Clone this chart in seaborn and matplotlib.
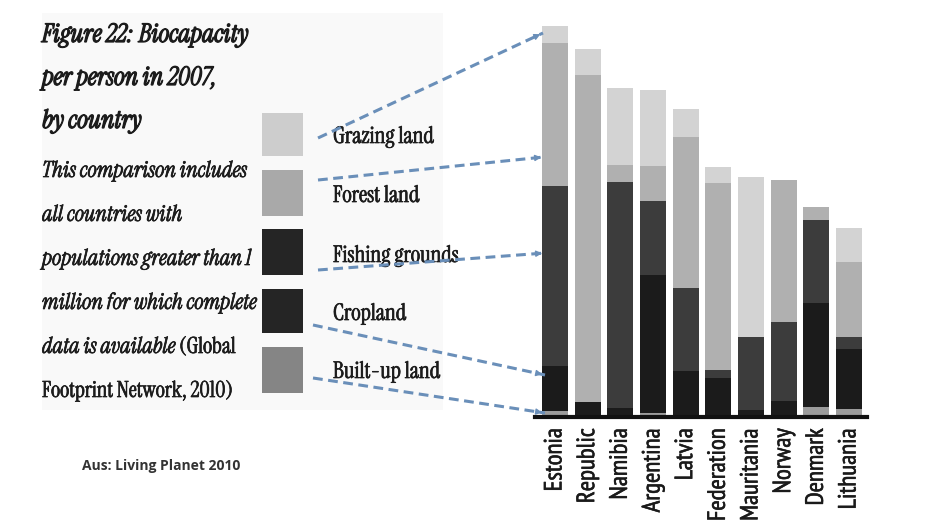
import matplotlib
matplotlib.use("Agg")
import numpy as np
import pandas as pd
import seaborn as sns
import matplotlib.pyplot as plt
import matplotlib.patheffects as pe
from matplotlib.patches import Rectangle, FancyArrowPatch
from matplotlib.lines import Line2D

# --- data (global hectares per person) ---
countries = ["Estonia", "Republic", "Namibia", "Argentina", "Latvia",
             "Federation", "Mauritania", "Norway", "Denmark", "Lithuania"]
built_up = [0.14, 0.02, 0.02, 0.09, 0.02, 0.02, 0.02, 0.02, 0.23, 0.18]
cropland = [1.03, 0.33, 0.18, 3.18, 1.05, 0.89, 0.14, 0.36, 2.40, 1.40]
fishing = [4.16, 0.00, 5.23, 1.73, 1.90, 0.17, 1.69, 1.81, 1.91, 0.27]
forest = [3.31, 7.54, 0.38, 0.79, 3.50, 4.33, 0.00, 3.29, 0.31, 1.73]
grazing = [0.38, 0.60, 1.78, 1.76, 0.64, 0.36, 3.69, 0.00, 0.00, 0.78]

layers = ["Built-up land", "Cropland", "Fishing grounds", "Forest land", "Grazing land"]
bar_colors = {"Built-up land": "#9c9c9c", "Cropland": "#1b1b1b",
              "Fishing grounds": "#3c3c3c", "Forest land": "#b0b0b0",
              "Grazing land": "#d3d3d3"}
key_colors = {"Grazing land": "#cdcdcd", "Forest land": "#a9a9a9",
              "Fishing grounds": "#252525", "Cropland": "#252525",
              "Built-up land": "#858585"}

df = pd.DataFrame({"country": countries, "Built-up land": built_up,
                   "Cropland": cropland, "Fishing grounds": fishing,
                   "Forest land": forest, "Grazing land": grazing})
cum = df[layers].cumsum(axis=1)
cum["country"] = df["country"]

W, H = 929, 526
fig = plt.figure(figsize=(W / 100, H / 100), dpi=100)
fig.patch.set_facecolor("white")

def fx(px):
    return px / W

def fy(py):
    return 1 - py / H

# faint panel behind the text block
fig.add_artist(Rectangle((fx(42), fy(410)), fx(443) - fx(42), fy(13) - fy(410),
                         transform=fig.transFigure, facecolor="#f9f9f9",
                         edgecolor="none", zorder=0))

ax = fig.add_axes([fx(535), fy(417), fx(867) - fx(535), 407 / H])
ax.set_facecolor("none")
# stacked bars: draw cumulative totals from the top layer down
for lay in layers[::-1]:
    sns.barplot(data=cum, x="country", y=lay, order=countries, color=bar_colors[lay],
                saturation=1, errorbar=None, width=0.8, linewidth=0, ax=ax)
ax.set_xlim(-0.61, 9.55)
ax.set_ylim(0, 9.4)
ax.set_xlabel("")
ax.set_ylabel("")
ax.set_yticks([])
for s in ["left", "right", "top"]:
    ax.spines[s].set_visible(False)
ax.spines["bottom"].set_linewidth(3)
ax.spines["bottom"].set_color("#111111")
ax.tick_params(axis="x", length=0, pad=8)
for lab in ax.get_xticklabels():
    lab.set_rotation(90)
    lab.set_fontfamily(["PT Sans Narrow", "DejaVu Sans"])
    lab.set_fontsize(18)
    lab.set_color("#1a1a1a")
    lab.set_va("top")
    lab.set_ha("center")
    lab.set_path_effects([pe.withStroke(linewidth=0.4, foreground="#1a1a1a")])

serif = ["Instrument Serif", "DejaVu Serif"]
txt = "#1c1c1c"
heavy = [pe.withStroke(linewidth=0.9, foreground=txt)]
mid = [pe.withStroke(linewidth=0.5, foreground=txt)]

# title
for line, base in zip(["Figure 22: Biocapacity", "per person in 2007,", "by country"],
                      [42, 85, 128]):
    fig.text(fx(42), fy(base), line, family=serif, style="italic",
             fontsize=18.5, color=txt, va="baseline", ha="left", path_effects=heavy)

# description
body = [("This comparison includes", ""), ("all countries with", ""),
        ("populations greater than 1", ""), ("million for which complete", ""),
        ("data is available", " (Global"), ("", "Footprint Network, 2010)")]
bases = [177, 221, 265, 309, 353, 397]
fig.canvas.draw()
rend = fig.canvas.get_renderer()
for (ital, up), base in zip(body, bases):
    x0 = fx(42)
    if ital:
        t = fig.text(x0, fy(base), ital, family=serif, style="italic", fontsize=16,
                     color=txt, va="baseline", ha="left", path_effects=mid)
        x0 = fx(t.get_window_extent(rend).x1)
    if up:
        fig.text(x0, fy(base), up, family=serif, fontsize=16, color=txt,
                 va="baseline", ha="left", path_effects=mid)

# colour key
key_boxes = {"Grazing land": (113, 156), "Forest land": (170, 216),
             "Fishing grounds": (229, 275), "Cropland": (289, 333),
             "Built-up land": (347, 393)}
key_base = {"Grazing land": 143, "Forest land": 202, "Fishing grounds": 262,
            "Cropland": 320, "Built-up land": 378}
for lay in layers[::-1]:
    top, bot = key_boxes[lay]
    fig.add_artist(Rectangle((fx(262), fy(bot)), fx(303) - fx(262), fy(top) - fy(bot),
                             transform=fig.transFigure, facecolor=key_colors[lay],
                             edgecolor="none", zorder=2))
    fig.text(fx(333), fy(key_base[lay]), lay, family=serif, fontsize=16.5,
             color=txt, va="baseline", ha="left", zorder=3, path_effects=mid)

# dashed leader lines from the key to the bars
leaders = [((318, 138), (543, 33)), ((318, 180), (544, 157)),
           ((318, 270), (545, 253)), ((313, 325), (545, 375)),
           ((313, 378), (545, 413))]
blue = "#6a8fb9"
for (x1, y1), (x2, y2) in leaders:
    ln = Line2D([fx(x1), fx(x2)], [fy(y1), fy(y2)], transform=fig.transFigure,
                color=blue, lw=2.2, zorder=4)
    ln.set_dashes([3.2, 1.8])
    fig.add_artist(ln)
    d = np.hypot(x2 - x1, y2 - y1)
    xa, ya = x2 - (x2 - x1) * 8 / d, y2 - (y2 - y1) * 8 / d
    fig.add_artist(FancyArrowPatch((fx(xa), fy(ya)), (fx(x2), fy(y2)),
                                   transform=fig.transFigure, arrowstyle="-|>",
                                   mutation_scale=9, color=blue, lw=1, zorder=4))

fig.text(fx(82), fy(466), "Aus: Living Planet 2010", family=["Open Sans", "DejaVu Sans"],
         fontweight="bold", fontsize=10, color="#333333", va="center", ha="left")

fig.savefig("out.png", dpi=100)
